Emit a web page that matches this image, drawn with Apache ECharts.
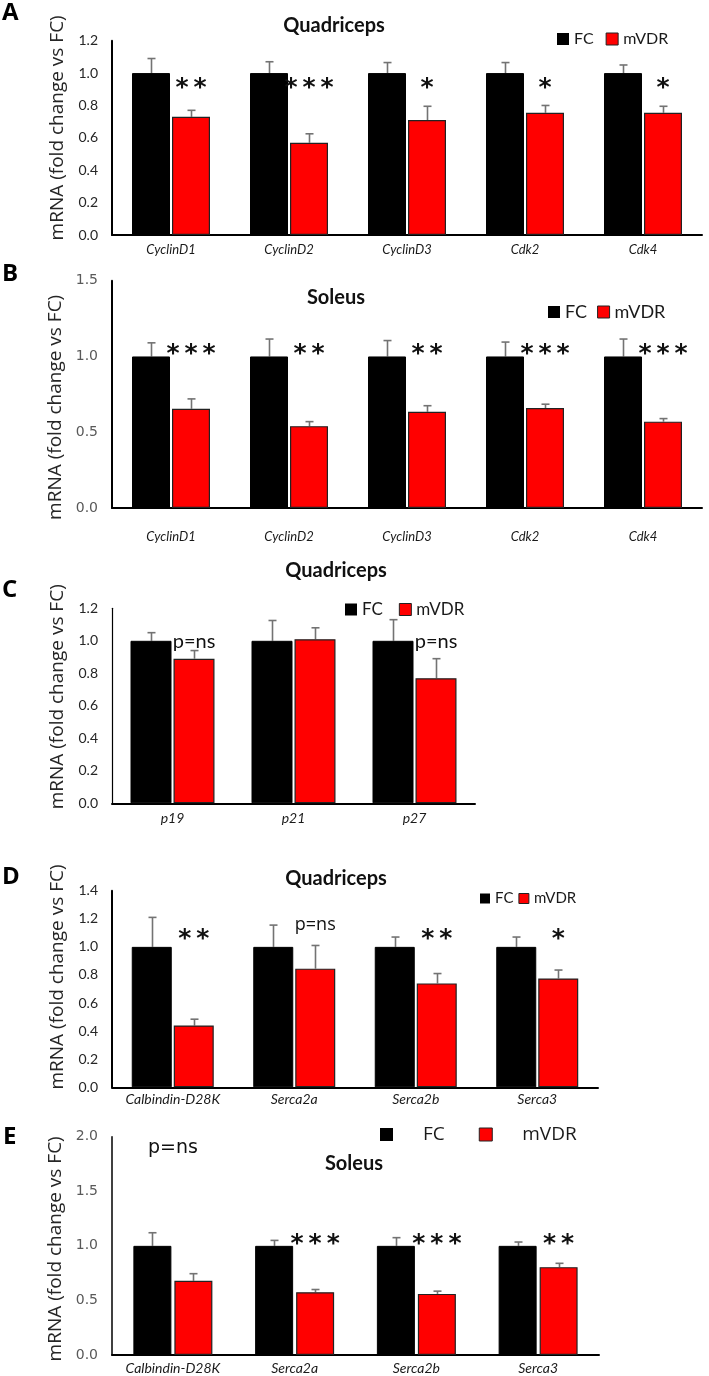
<!DOCTYPE html>
<html><head><meta charset="utf-8">
<script src="https://cdn.jsdelivr.net/npm/echarts@6/dist/echarts.min.js"></script>
<style>html,body{margin:0;padding:0;background:#fff}#c{width:709px;height:1376px}</style>
</head><body><div id="c"></div><script>
// ---------- DATA ----------
// Panel A - Quadriceps
const aCategories = ['CyclinD1','CyclinD2','CyclinD3','Cdk2','Cdk4'];
const aFC = [1.0,1.0,1.0,1.0,1.0];
const aFCErr = [0.09,0.07,0.065,0.065,0.05];
const aMVDR = [0.73,0.57,0.71,0.755,0.755];
const aMVDRErr = [0.04,0.055,0.085,0.045,0.04];
const aSig = ['**','***','*','*','*'];
const aTicks = [0,0.2,0.4,0.6,0.8,1.0,1.2];
// Panel B - Soleus
const bCategories = ['CyclinD1','CyclinD2','CyclinD3','Cdk2','Cdk4'];
const bFC = [1.0,1.0,1.0,1.0,1.0];
const bFCErr = [0.09,0.115,0.105,0.095,0.115];
const bMVDR = [0.655,0.54,0.635,0.66,0.57];
const bMVDRErr = [0.065,0.03,0.04,0.025,0.02];
const bSig = ['***','**','**','***','***'];
const bTicks = [0,0.5,1.0,1.5];
// Panel C - Quadriceps
const cCategories = ['p19','p21','p27'];
const cFC = [1.0,1.0,1.0];
const cFCErr = [0.05,0.125,0.13];
const cMVDR = [0.89,1.01,0.77];
const cMVDRErr = [0.05,0.07,0.12];
const cSig = ['p=ns','','p=ns'];
const cTicks = [0,0.2,0.4,0.6,0.8,1.0,1.2];
// Panel D - Quadriceps
const dCategories = ['Calbindin-D28K','Serca2a','Serca2b','Serca3'];
const dFC = [1.0,1.0,1.0,1.0];
const dFCErr = [0.21,0.155,0.07,0.07];
const dMVDR = [0.44,0.845,0.74,0.775];
const dMVDRErr = [0.045,0.165,0.07,0.06];
const dSig = ['**','p=ns','**','*'];
const dTicks = [0,0.2,0.4,0.6,0.8,1.0,1.2,1.4];
// Panel E - Soleus
const eCategories = ['Calbindin-D28K','Serca2a','Serca2b','Serca3'];
const eFC = [1.0,1.0,1.0,1.0];
const eFCErr = [0.12,0.05,0.075,0.035];
const eMVDR = [0.68,0.575,0.56,0.805];
const eMVDRErr = [0.065,0.025,0.025,0.035];
const eSig = ['p=ns','***','***','**'];
const eTicks = [0,0.5,1.0,1.5,2.0];

const seriesNames = ['FC','mVDR'];
const yTitle = 'mRNA (fold change vs FC)';

// ---------- STYLE / LAYOUT ----------
const CAL = 'Lato, sans-serif';
const SEG = '"Open Sans", sans-serif';
const VER = '"DejaVu Sans", sans-serif';
const panels = [
  {letter:'A', title:'Quadriceps', cats:aCategories, fc:aFC, fcErr:aFCErr, mv:aMVDR, mvErr:aMVDRErr, sig:aSig, ticks:aTicks,
   grid:{left:112, top:40.7, width:590, height:194.3}, barW:38, gap:2, tickFont:CAL, tickSize:14, tickColor:'#262626', xFont:13, xMargin:8,
   yLine:2, namePad:[0,0,0,20],
   titlePos:[334,16], letterPos:[2,1], legend:{left:557, top:31, font:CAL, size:16, iw:12, ih:12, gap:12, pad:0},
   starLevel:0.907, nsLevel:0, nsMode:'bar', nsFont:CAL},
  {letter:'B', title:'Soleus', cats:bCategories, fc:bFC, fcErr:bFCErr, mv:bMVDR, mvErr:bMVDRErr, sig:bSig, ticks:bTicks,
   grid:{left:112, top:280.7, width:590, height:227.3}, barW:38, gap:2, tickFont:VER, tickSize:14, tickColor:'#595959', xFont:13, xMargin:22,
   yLine:2, namePad:[0,26,0,0],
   titlePos:[336,288], letterPos:[2,262], legend:{left:548, top:303, font:CAL, size:18, iw:12, ih:12, gap:10, pad:0},
   starLevel:1.01, nsLevel:0, nsMode:'bar', nsFont:CAL},
  {letter:'C', title:'Quadriceps', cats:cCategories, fc:cFC, fcErr:cFCErr, mv:cMVDR, mvErr:cMVDRErr, sig:cSig, ticks:cTicks,
   grid:{left:112, top:608.3, width:363, height:195}, barW:41, gap:2, tickFont:CAL, tickSize:14, tickColor:'#262626', xFont:14, xMargin:8,
   yLine:1.2, namePad:[0,0,0,18],
   titlePos:[336,561], letterPos:[2,578], legend:{left:345, top:601, font:CAL, size:17, iw:12, ih:12, gap:16, pad:0},
   starLevel:0.99, nsLevel:0.993, nsMode:'bar', nsFont:CAL, nsSize:20},
  {letter:'D', title:'Quadriceps', cats:dCategories, fc:dFC, fcErr:dFCErr, mv:dMVDR, mvErr:dMVDRErr, sig:dSig, ticks:dTicks,
   grid:{left:112, top:890.7, width:486, height:196.6}, barW:40, gap:2, tickFont:CAL, tickSize:14, tickColor:'#262626', xFont:14, xMargin:5,
   yLine:2, namePad:[0,0,0,24],
   titlePos:[336,869], letterPos:[2,865], legend:{left:480, top:891, font:CAL, size:15, iw:10, ih:10, gap:5, pad:0},
   starLevel:1.049, nsLevel:1.156, nsMode:'bar', nsFont:SEG, nsSize:18},
  {letter:'E', title:'Soleus', cats:eCategories, fc:eFC, fcErr:eFCErr, mv:eMVDR, mvErr:eMVDRErr, sig:eSig, ticks:eTicks,
   grid:{left:112, top:1136.7, width:487, height:218.3}, barW:38, gap:3, tickFont:VER, tickSize:14, tickColor:'#595959', xFont:14, xMargin:6,
   yLine:1.5, namePad:[0,6,0,0],
   titlePos:[354,1154], letterPos:[3,1125], legend:{left:380, top:1125, font:SEG, size:19, iw:13, ih:13, gap:34, pad:[0,0,0,25]},
   starLevel:1.016, nsLevel:1.896, nsMode:'center', nsFont:VER, nsSize:19}
];

const option = {animation:false, backgroundColor:'#fff', grid:[], xAxis:[], yAxis:[], series:[], title:[], legend:[]};

panels.forEach((p, gi) => {
  const ticks = p.ticks;
  option.grid.push(Object.assign({containLabel:false}, p.grid));
  option.xAxis.push({type:'category', gridIndex:gi, data:p.cats,
    axisLine:{lineStyle:{color:'#000', width:2}}, axisTick:{show:false},
    axisLabel:{fontFamily:CAL, fontStyle:'italic', fontSize:p.xFont, color:'#1a1a1a', margin:p.xMargin, interval:0}});
  option.yAxis.push({type:'value', gridIndex:gi, min:ticks[0], max:ticks[ticks.length-1], interval:ticks[1]-ticks[0],
    axisLine:{show:true, lineStyle:{color:'#000', width:p.yLine}}, axisTick:{show:false}, splitLine:{show:false},
    axisLabel:{fontFamily:p.tickFont, fontSize:p.tickSize, color:p.tickColor, margin:14, formatter:v=>v.toFixed(1)},
    name:yTitle, nameLocation:'middle', nameRotate:90, nameGap:43,
    nameTextStyle:{fontFamily:SEG, fontSize:19, color:'#262626', padding:p.namePad}});
  const gapPct = (p.gap / p.barW * 100) + '%';
  option.series.push({type:'bar', name:seriesNames[0], xAxisIndex:gi, yAxisIndex:gi, data:p.fc, barWidth:p.barW, barGap:gapPct,
    itemStyle:{color:'#000', borderColor:'#000', borderWidth:1}});
  option.series.push({type:'bar', name:seriesNames[1], xAxisIndex:gi, yAxisIndex:gi, data:p.mv, barWidth:p.barW, barGap:gapPct,
    itemStyle:{color:'#ff0000', borderColor:'#222', borderWidth:1.2}});
  // error bars (upper half only)
  option.series.push({type:'custom', xAxisIndex:gi, yAxisIndex:gi, silent:true, z:1,
    data:p.cats.map((c,i)=>[i, p.fc[i], p.fcErr[i], p.mv[i], p.mvErr[i]]),
    encode:{x:0, y:1},
    renderItem:(params, api) => {
      const i = api.value(0);
      const els = [];
      [[api.value(1), api.value(2), -1],[api.value(3), api.value(4), 1]].forEach(([v,e,s]) => {
        const off = s * (p.barW/2 + p.gap/2);
        const b = api.coord([i, v]), t = api.coord([i, v+e]);
        const x = Math.round(b[0] + off) + 0.5;
        els.push({type:'line', shape:{x1:x, y1:b[1], x2:x, y2:t[1]}, style:{stroke:'#737373', lineWidth:1.6}});
        els.push({type:'line', shape:{x1:x-4, y1:t[1], x2:x+4, y2:t[1]}, style:{stroke:'#737373', lineWidth:1.6}});
      });
      return {type:'group', children:els};
    }});
  // significance annotations
  option.series.push({type:'custom', xAxisIndex:gi, yAxisIndex:gi, silent:true, z:6,
    data:p.cats.map((c,i)=>[i, p.mv[i]]),
    encode:{x:0, y:1},
    renderItem:(params, api) => {
      const i = api.value(0);
      const txt = p.sig[i];
      if (!txt) return null;
      const isNs = txt === 'p=ns';
      const level = isNs ? p.nsLevel : p.starLevel;
      const pt = api.coord([i, level]);
      const off = (isNs && p.nsMode === 'center') ? 0 : (p.barW/2 + p.gap/2);
      return {type:'text', x:pt[0] + off, y:pt[1],
        style:{text: isNs ? txt : txt.split('').join('\u2009'), align:'center', verticalAlign:'middle', fill:'#111',
          fontFamily: isNs ? p.nsFont : VER, fontWeight: isNs ? 'normal' : 'bold', fontSize: isNs ? p.nsSize : 25}};
    }});
  option.title.push({text:p.title, left:p.titlePos[0], top:p.titlePos[1], textAlign:'center', padding:0,
    textStyle:{fontFamily:CAL, fontWeight:'bold', fontSize:20, color:'#111'}});
  option.title.push({text:p.letter, left:p.letterPos[0], top:p.letterPos[1], padding:0,
    textStyle:{fontFamily:SEG, fontWeight:'bold', fontSize:24, color:'#000'}});
  const L = p.legend;
  option.legend.push({data:[{name:'FC', itemStyle:{color:'#000', borderWidth:0}}, {name:'mVDR', itemStyle:{color:'#ff0000', borderColor:'#222', borderWidth:1}}],
    left:L.left, top:L.top, orient:'horizontal', icon:'rect', itemWidth:L.iw, itemHeight:L.ih, itemGap:L.gap, padding:0,
    selectedMode:false, textStyle:{fontFamily:L.font, fontSize:L.size, color:'#1a1a1a', padding:L.pad}});
});

const chart = echarts.init(document.getElementById('c'), null, {renderer:'canvas', width:709, height:1376});
chart.setOption(option);
</script></body></html>
